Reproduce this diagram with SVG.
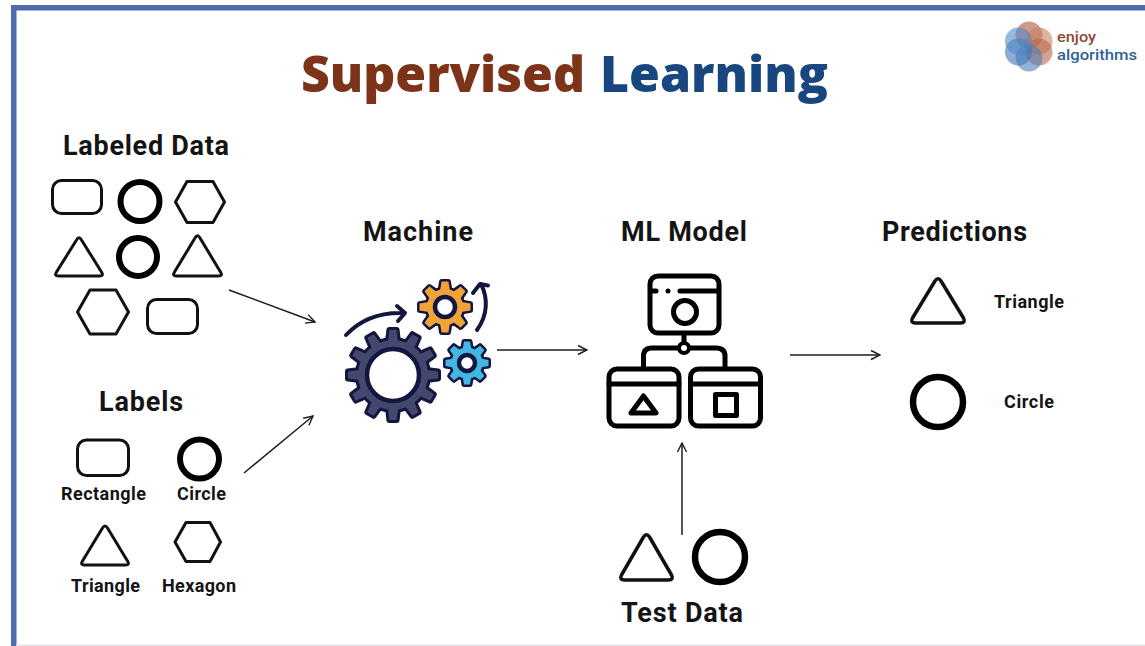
<svg xmlns="http://www.w3.org/2000/svg" width="1145" height="646" viewBox="0 0 1145 646">
<defs>
<marker id="arrow" viewBox="0 0 12 12" refX="11" refY="6" markerWidth="12" markerHeight="12" markerUnits="userSpaceOnUse" orient="auto"><path d="M2 1.5 L11 6 L2 10.5" fill="none" stroke="#1c1c1c" stroke-width="1.4"/></marker>
<polygon id="tb" points="-5,-33 -3.6,-45 3.6,-45 5,-33"/>
<g id="gear-big">
<circle r="35"/>
<use href="#tb"/><use href="#tb" transform="rotate(30)"/><use href="#tb" transform="rotate(60)"/><use href="#tb" transform="rotate(90)"/><use href="#tb" transform="rotate(120)"/><use href="#tb" transform="rotate(150)"/><use href="#tb" transform="rotate(180)"/><use href="#tb" transform="rotate(210)"/><use href="#tb" transform="rotate(240)"/><use href="#tb" transform="rotate(270)"/><use href="#tb" transform="rotate(300)"/><use href="#tb" transform="rotate(330)"/>
</g>
<polygon id="to" points="-5,-16 -3.4,-25.500 3.4,-25.500 5,-16"/>
<g id="gear-orange">
<circle r="18"/>
<use href="#to"/><use href="#to" transform="rotate(45)"/><use href="#to" transform="rotate(90)"/><use href="#to" transform="rotate(135)"/><use href="#to" transform="rotate(180)"/><use href="#to" transform="rotate(225)"/><use href="#to" transform="rotate(270)"/><use href="#to" transform="rotate(315)"/>
</g>
<polygon id="ts" points="-4.400,-13 -3,-21.500 3,-21.500 4.400,-13"/>
<g id="gear-blue">
<circle r="15.500"/>
<use href="#ts"/><use href="#ts" transform="rotate(45)"/><use href="#ts" transform="rotate(90)"/><use href="#ts" transform="rotate(135)"/><use href="#ts" transform="rotate(180)"/><use href="#ts" transform="rotate(225)"/><use href="#ts" transform="rotate(270)"/><use href="#ts" transform="rotate(315)"/>
</g>
</defs>
<style>
text{font-family:Roboto,"Liberation Sans",sans-serif;font-weight:700;fill:#141414}
.h{font-size:27px}
.s{font-size:18px}
.t{font-family:"Open Sans","Noto Sans",sans-serif;font-weight:800;font-size:50px}
.o{fill:none;stroke:#111;stroke-width:3;stroke-linejoin:round}
.c{fill:none;stroke:#000;stroke-width:6}
.b{fill:none;stroke:#000;stroke-width:6.500}
.i{fill:none;stroke:#000;stroke-width:5;stroke-linejoin:round;stroke-linecap:round}
.gd{fill:#14163f;stroke:#14163f;stroke-linejoin:round}
.a{fill:none;stroke:#14163f;stroke-width:4;stroke-linecap:round;stroke-linejoin:round}
.p{opacity:.6}
#connectors line{stroke:#1c1c1c;stroke-width:1.5;marker-end:url(#arrow)}
</style>
<rect width="1145" height="646" fill="#fff"/>
<g id="frame">
<rect x="11" y="5" width="1134" height="5.500" fill="#4f6bb0"/>
<rect x="11" y="5" width="5.500" height="641" fill="#4f6bb0"/>
<rect x="16" y="644.500" width="1129" height="1.500" fill="#e4e4e8"/>
</g>
<g id="title"><text class="t" x="301" y="92" textLength="284" lengthAdjust="spacingAndGlyphs" style="fill:#7c3317">Supervised</text><text class="t" x="600" y="92" textLength="228" lengthAdjust="spacingAndGlyphs" style="fill:#17477e">Learning</text></g>
<g id="logo">
<circle class="p" cx="1029" cy="35" r="13.500" fill="#a9583f"/>
<circle class="p" cx="1039" cy="41" r="13.500" fill="#c9805f"/>
<circle class="p" cx="1039" cy="52" r="13.500" fill="#b8654a"/>
<circle class="p" cx="1029" cy="58" r="13.500" fill="#4f7fb8"/>
<circle class="p" cx="1018.500" cy="52" r="13.500" fill="#3f74b5"/>
<circle class="p" cx="1018.500" cy="41" r="13.500" fill="#4f88c4"/>
<text x="1057" y="42" textLength="39" lengthAdjust="spacingAndGlyphs" style="font-size:14px;font-weight:500;fill:#8a4a34">enjoy</text>
<text x="1057" y="59.500" textLength="80" lengthAdjust="spacingAndGlyphs" style="font-size:14px;font-weight:500;fill:#2f6295">algorithms</text>
</g>
<g id="labeled-data">
<text class="h" x="63" y="155" textLength="166">Labeled Data</text>
<rect class="o" x="52.500" y="180.500" width="49" height="33" rx="9"/>
<circle class="c" cx="140" cy="201.500" r="19.500"/>
<polygon class="o" points="175.500,202 187,181.500 213,181.500 224.500,202 213,222.500 187,222.500"/>
<path class="o" d="M76.500 240 Q79 235.500 81.500 240 L101.500 272 Q104 276 99.500 276 L58.500 276 Q54 276 56.500 272 Z"/>
<circle class="c" cx="138" cy="257" r="19"/>
<path class="o" d="M195 238 Q197.500 233.500 200 238 L220.500 272 Q223 276 218.500 276 L176.500 276 Q172 276 174.500 272 Z"/>
<polygon class="o" points="77.500,312 90,290 116,290 128.500,312 116,334 90,334"/>
<rect class="o" x="147.500" y="299.500" width="50" height="34" rx="9"/>
</g>
<g id="labels">
<text class="h" x="99" y="411" textLength="84">Labels</text>
<rect class="o" x="77.500" y="440" width="51" height="35.500" rx="9"/>
<text class="s" x="61" y="500" textLength="85">Rectangle</text>
<circle class="c" cx="199.500" cy="459" r="19.500"/>
<text class="s" x="177" y="500" textLength="49">Circle</text>
<path class="o" d="M102.500 528 Q105 524 107.500 528 L127.500 561 Q130 565 125.500 565 L84.500 565 Q80 565 82.500 561 Z"/>
<text class="s" x="71" y="592" textLength="69">Triangle</text>
<polygon class="o" points="175,542 186,522.500 210,522.500 220.500,542 210,561.500 186,561.500"/>
<text class="s" x="162" y="592" textLength="74">Hexagon</text>
</g>
<g id="machine">
<text class="h" x="363" y="241" textLength="110">Machine</text>
<use href="#gear-big" class="gd" stroke-width="6" transform="translate(393 375)"/>
<use href="#gear-big" fill="#43486e" transform="translate(393 375)"/>
<circle cx="393" cy="375" r="26" fill="#fff" stroke="#14163f" stroke-width="4.500"/>
<use href="#gear-orange" class="gd" stroke-width="5" transform="translate(445 307)"/>
<use href="#gear-orange" fill="#efa339" transform="translate(445 307)"/>
<circle cx="445" cy="307" r="10" fill="#fff" stroke="#14163f" stroke-width="4.500"/>
<use href="#gear-blue" class="gd" stroke-width="5" transform="translate(467 363)"/>
<use href="#gear-blue" fill="#43b7e4" transform="translate(467 363)"/>
<circle cx="467" cy="363" r="8" fill="#fff" stroke="#14163f" stroke-width="4.500"/>
<path class="a" d="M346 335 C360 320 380 312 404 313 M397 306 L405 313 L398 321"/>
<path class="a" d="M477 330 C488 315 488 298 481 284 M473 293 L480 284 L488 285.500"/>
</g>
<g id="ml-model">
<text class="h" x="621" y="241" textLength="126">ML Model</text>
<rect class="i" x="650" y="276" width="69" height="57" rx="8"/>
<path class="i" d="M680 291 H718 M653 291 H656"/>
<circle cx="668" cy="291" r="2.500" fill="#000"/>
<circle class="i" cx="685" cy="312" r="11.500"/>
<path class="i" d="M684 334 V343 M679 348 H652 Q643.500 348 643.500 356 V367 M689 348 H716 Q725 348 725 356 V367"/>
<circle cx="684" cy="348" r="5" fill="#fff" stroke="#000" stroke-width="4"/>
<rect class="i" x="609" y="369" width="70" height="57" rx="8"/>
<rect class="i" x="690.500" y="369" width="70" height="57" rx="8"/>
<path class="i" d="M609 384 H679 M690.500 384 H760.500"/>
<polygon class="i" points="643.500,396 656,413 631,413"/>
<rect class="i" x="715.500" y="394.500" width="21" height="21"/>
</g>
<g id="predictions">
<text class="h" x="882" y="241" textLength="145">Predictions</text>
<path class="o" style="stroke-width:3.500" d="M935 281 Q938 276.500 941 281 L963.500 318 Q966 323 960.500 323 L915.500 323 Q910 323 912.500 318 Z"/>
<text class="s" x="994" y="308" textLength="70">Triangle</text>
<circle class="b" cx="938" cy="402" r="25"/>
<text class="s" x="1004" y="408" textLength="50">Circle</text>
</g>
<g id="test-data">
<path class="o" style="stroke-width:3.500" d="M643.500 537 Q646.500 532.500 649.500 537 L671.500 575 Q674 580 668.500 580 L624.500 580 Q619 580 621.500 575 Z"/>
<circle class="b" cx="720" cy="557" r="25"/>
<text class="h" x="621" y="622" textLength="122">Test Data</text>
</g>
<g id="connectors">
<line x1="229" y1="290" x2="315" y2="322"/>
<line x1="244" y1="473" x2="313" y2="416"/>
<line x1="497" y1="350" x2="587" y2="350"/>
<line x1="790" y1="355" x2="880" y2="355"/>
<line x1="682" y1="535" x2="682" y2="443"/>
</g>
</svg>
